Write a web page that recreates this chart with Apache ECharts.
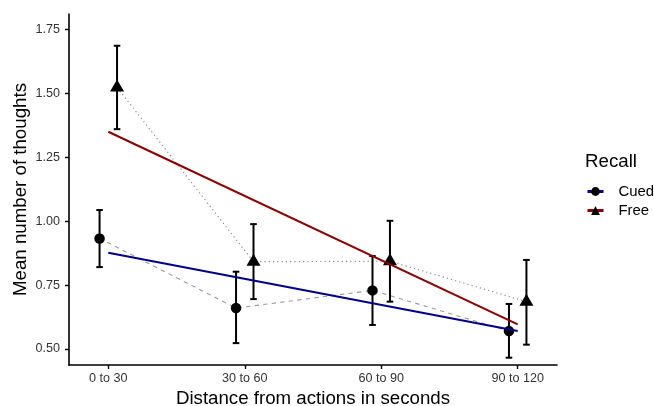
<!DOCTYPE html>
<html lang="en">
<head>
    <meta charset="UTF-8">
    <script src="https://cdn.jsdelivr.net/npm/echarts@6/dist/echarts.min.js"></script>
    <title>Mean number of thoughts</title>
    <style>
        html, body { margin: 0; padding: 0; background: #fff; }
        #chart { width: 654px; height: 406px; }
    </style>
</head>

<script>
    // values
    const categories = ['0 to 30', '30 to 60', '60 to 90', '90 to 120']
    const cuedMean = [0.932, 0.660, 0.729, 0.570]
    const cuedLow = [0.820, 0.523, 0.594, 0.466]
    const cuedHigh = [1.043, 0.802, 0.863, 0.676]
    const freeMean = [1.522, 0.841, 0.843, 0.685]
    const freeLow = [1.359, 0.695, 0.685, 0.517]
    const freeHigh = [1.685, 0.988, 1.001, 0.848]
    // linear fit ends, at first and last category
    const cuedFit = [0.876, 0.570]
    const freeFit = [1.349, 0.596]
    const yTicks = [0.50, 0.75, 1.00, 1.25, 1.50, 1.75]
</script>

<body>
    <div id="chart"></div>
    <script>
        const DODGE = 0.064
        const FONT = '"Liberation Sans", Arial, sans-serif'
        const xTicks = categories.map((c, i) => i + 1)

        function points(means, shift) {
            return means.map((v, i) => [i + 1 + shift, v])
        }
        function bars(lows, highs, shift) {
            return lows.map((v, i) => [i + 1 + shift, v, highs[i]])
        }
        function fitLine(ends) {
            return [[1, ends[0]], [categories.length, ends[1]]]
        }

        function renderBar(params, api) {
            const x = api.value(0)
            const top = api.coord([x, api.value(2)])
            const bot = api.coord([x, api.value(1)])
            const cap = 3.3
            const style = { stroke: '#000', lineWidth: 2 }
            return {
                type: 'group',
                children: [
                    { type: 'line', shape: { x1: top[0], y1: top[1], x2: bot[0], y2: bot[1] }, style: style },
                    { type: 'line', shape: { x1: top[0] - cap, y1: top[1], x2: top[0] + cap, y2: top[1] }, style: style },
                    { type: 'line', shape: { x1: bot[0] - cap, y1: bot[1], x2: bot[0] + cap, y2: bot[1] }, style: style }
                ]
            }
        }

        const chart = echarts.init(document.getElementById('chart'), null, { renderer: 'canvas' })
        const option = {
            animation: false,
            backgroundColor: '#fff',
            textStyle: { fontFamily: FONT },
            grid: { left: 69, right: 97, top: 14, bottom: 41, outerBoundsMode: 'none', containLabel: false },
            title: {
                text: 'Recall',
                left: 585,
                top: 152,
                padding: 0,
                textStyle: { fontFamily: FONT, fontSize: 18.7, fontWeight: 'normal', color: '#000' }
            },
            legend: {
                data: ['Cued', 'Free'],
                orient: 'vertical',
                left: 586,
                top: 184,
                padding: 0,
                itemWidth: 16,
                itemHeight: 11,
                itemGap: 4,
                lineStyle: { width: 3 },
                textStyle: { fontFamily: FONT, fontSize: 14.9, color: '#000', padding: [0, 0, 0, 10] }
            },
            xAxis: {
                type: 'value',
                min: 0.712,
                max: 4.288,
                name: 'Distance from actions in seconds',
                nameLocation: 'middle',
                nameGap: 24,
                nameMoveOverlap: false,
                nameTextStyle: { fontFamily: FONT, fontSize: 18.7, color: '#000' },
                axisLine: { lineStyle: { color: '#000', width: 1.6 } },
                axisTick: { length: 4, customValues: xTicks, lineStyle: { color: '#000', width: 1.4 } },
                axisLabel: {
                    customValues: xTicks,
                    margin: 7,
                    fontSize: 12.6,
                    color: '#333',
                    formatter: v => categories[Math.round(v) - 1]
                },
                splitLine: { show: false }
            },
            yAxis: {
                type: 'value',
                min: 0.4375,
                max: 1.809,
                name: 'Mean number of thoughts',
                nameLocation: 'middle',
                nameGap: 39,
                nameMoveOverlap: false,
                nameTextStyle: { fontFamily: FONT, fontSize: 18.7, color: '#000' },
                axisLine: { show: true, lineStyle: { color: '#000', width: 1.6 } },
                axisTick: { show: true, length: 4, customValues: yTicks, lineStyle: { color: '#000', width: 1.4 } },
                axisLabel: {
                    customValues: yTicks,
                    margin: 9,
                    fontSize: 12.6,
                    color: '#333',
                    formatter: v => v.toFixed(2)
                },
                splitLine: { show: false }
            },
            series: [
                {
                    name: 'Cued means',
                    type: 'line',
                    data: points(cuedMean, -DODGE),
                    showSymbol: false,
                    z: 1,
                    lineStyle: { color: '#9a9a9a', width: 1.1, type: [4.3, 4.3] }
                },
                {
                    name: 'Free means',
                    type: 'line',
                    data: points(freeMean, DODGE),
                    showSymbol: false,
                    z: 1,
                    lineStyle: { color: '#8c8c8c', width: 1.2, type: [1.2, 3.1] }
                },
                {
                    name: 'Cued bars',
                    type: 'custom',
                    renderItem: renderBar,
                    encode: { x: 0, y: [1, 2] },
                    data: bars(cuedLow, cuedHigh, -DODGE),
                    z: 2
                },
                {
                    name: 'Free bars',
                    type: 'custom',
                    renderItem: renderBar,
                    encode: { x: 0, y: [1, 2] },
                    data: bars(freeLow, freeHigh, DODGE),
                    z: 2
                },
                {
                    name: 'Cued points',
                    type: 'scatter',
                    data: points(cuedMean, -DODGE),
                    symbol: 'circle',
                    symbolSize: 10.5,
                    itemStyle: { color: '#000', opacity: 1 },
                    z: 3
                },
                {
                    name: 'Free points',
                    type: 'scatter',
                    data: points(freeMean, DODGE),
                    symbol: 'triangle',
                    symbolSize: [14, 12],
                    symbolOffset: [0, -2],
                    itemStyle: { color: '#000', opacity: 1 },
                    z: 3
                },
                {
                    name: 'Cued',
                    type: 'line',
                    data: fitLine(cuedFit),
                    symbol: 'circle',
                    showSymbol: false,
                    itemStyle: { color: '#000' },
                    lineStyle: { color: '#00008B', width: 2 },
                    z: 4
                },
                {
                    name: 'Free',
                    type: 'line',
                    data: fitLine(freeFit),
                    symbol: 'triangle',
                    showSymbol: false,
                    itemStyle: { color: '#000' },
                    lineStyle: { color: '#8B0000', width: 2 },
                    z: 4
                }
            ]
        }
        chart.setOption(option)
    </script>
</body>
</html>
